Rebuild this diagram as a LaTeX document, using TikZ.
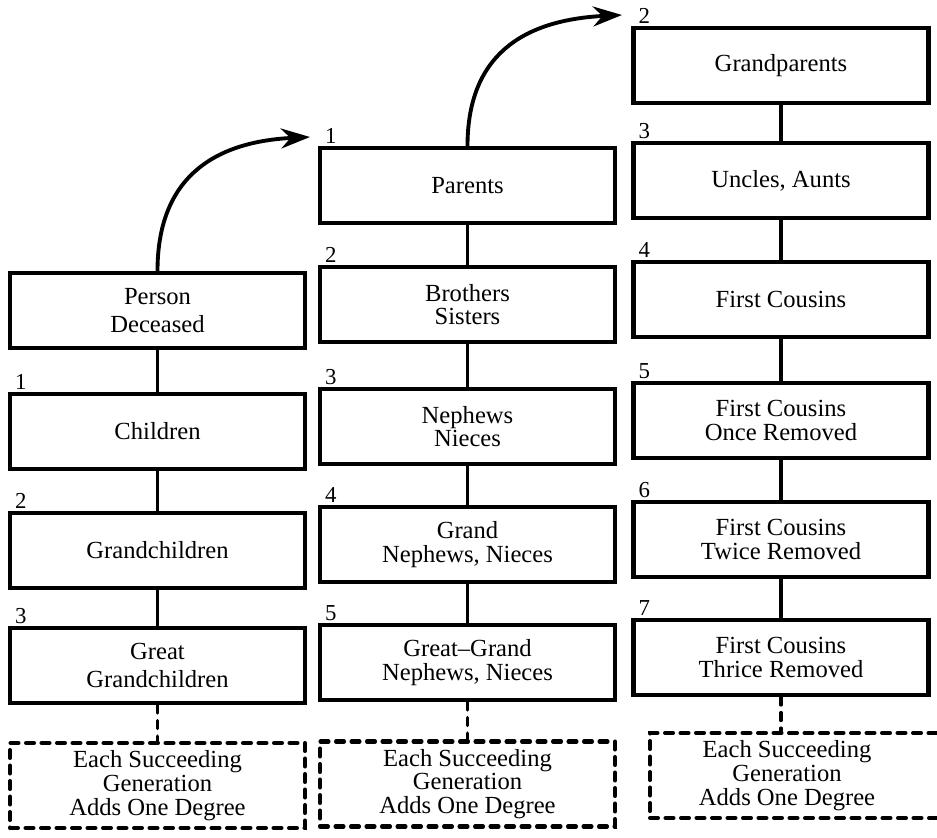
\documentclass[tikz,border=0pt]{standalone}
\usepackage{fontspec}
\setmainfont{Liberation Serif}
\usetikzlibrary{arrows.meta, positioning}

\begin{document}
\begin{tikzpicture}[
    degree/.style={draw, line width=2.3pt, minimum width=5.9cm, minimum height=1.5cm,
                   align=center, inner sep=2pt, font=\fontsize{14}{13.5}\selectfont},
    more/.style={degree, dash pattern=on 0.16cm off 0.15cm, line cap=round,
                 minimum height=1.7cm},
    num/.style={anchor=south west, inner sep=1pt, xshift=0.1cm,
                font=\fontsize{13}{13}\selectfont},
    link/.style={line width=1.8pt},
    dotlink/.style={link, dash pattern=on 0.16cm off 0.15cm, line cap=round},
    jump/.style={-{Stealth[length=0.58cm, width=0.4cm]}, line width=2.2pt}
]
    \useasboundingbox (0,0) rectangle (18.74,-16.74);

    % Descendants
    \node[degree] (person) at (3.15,-6.21) {Person\\[2pt]Deceased};
    \node[degree] (child) at (3.15,-8.63) {Children};
    \node[degree] (gchild) at (3.15,-11.01) {Grandchildren};
    \node[degree] (ggchild) at (3.15,-13.31) {Great\\[2pt]Grandchildren};
    \node[more] (more1) at (3.15,-15.71) {Each Succeeding\\Generation\\Adds One Degree};

    % Parents and their line
    \node[degree] (parents) at (9.35,-3.71) {Parents};
    \node[degree] (siblings) at (9.35,-6.09) {Brothers\\Sisters};
    \node[degree] (nephews) at (9.35,-8.53) {Nephews\\Nieces};
    \node[degree] (gnephews) at (9.35,-10.89) {Grand\\Nephews, Nieces};
    \node[degree] (ggnephews) at (9.35,-13.25) {Great--Grand\\Nephews, Nieces};
    \node[more] (more2) at (9.35,-15.68) {Each Succeeding\\Generation\\Adds One Degree};

    % Grandparents and their line
    \node[degree] (gparents) at (15.62,-1.31) {Grandparents};
    \node[degree] (uncles) at (15.62,-3.61) {Uncles, Aunts};
    \node[degree] (cousins) at (15.62,-5.99) {First Cousins};
    \node[degree] (once) at (15.62,-8.41) {First Cousins\\Once Removed};
    \node[degree] (twice) at (15.62,-10.79) {First Cousins\\Twice Removed};
    \node[degree] (thrice) at (15.62,-13.15) {First Cousins\\Thrice Removed};
    \node[more, minimum width=6.2cm] (more3) at (16.1,-15.51)
        {\hspace*{-0.72cm}Each Succeeding\\\hspace*{-0.72cm}Generation\\\hspace*{-0.72cm}Adds One Degree};

    % Degree numbers
    \node[num] (d11) at (child.north west) {1};
    \node[num] (d12) at (gchild.north west) {2};
    \node[num] (d13) at (ggchild.north west) {3};
    \node[num] (d21) at (parents.north west) {1};
    \node[num] (d22) at (siblings.north west) {2};
    \node[num] (d23) at (nephews.north west) {3};
    \node[num] (d24) at (gnephews.north west) {4};
    \node[num] (d25) at (ggnephews.north west) {5};
    \node[num] (d32) at (gparents.north west) {2};
    \node[num] (d33) at (uncles.north west) {3};
    \node[num] (d34) at (cousins.north west) {4};
    \node[num] (d35) at (once.north west) {5};
    \node[num] (d36) at (twice.north west) {6};
    \node[num] (d37) at (thrice.north west) {7};

    % Lines of descent
    \draw[link] (person) -- (child);
    \draw[link] (child) -- (gchild);
    \draw[link] (gchild) -- (ggchild);
    \draw[dotlink] (ggchild) -- (more1);

    \draw[link] (parents) -- (siblings);
    \draw[link] (siblings) -- (nephews);
    \draw[link] (nephews) -- (gnephews);
    \draw[link] (gnephews) -- (ggnephews);
    \draw[dotlink] (ggnephews) -- (more2);

    \draw[link] (gparents) -- (uncles);
    \draw[link] (uncles) -- (cousins);
    \draw[link] (cousins) -- (once);
    \draw[link] (once) -- (twice);
    \draw[link] (twice) -- (thrice);
    \draw[dotlink] (thrice.south) -- (thrice.south |- more3.north);

    % Steps up to the next ancestor
    \coordinate (up1) at (6.2,-2.74);
    \coordinate (up2) at (12.44,-0.3);
    \draw[jump] (person.north) .. controls +(0,1.8) and +(-2,-0.1) .. (up1);
    \draw[jump] (parents.north) .. controls +(0,1.8) and +(-2,-0.1) .. (up2);
\end{tikzpicture}
\end{document}
